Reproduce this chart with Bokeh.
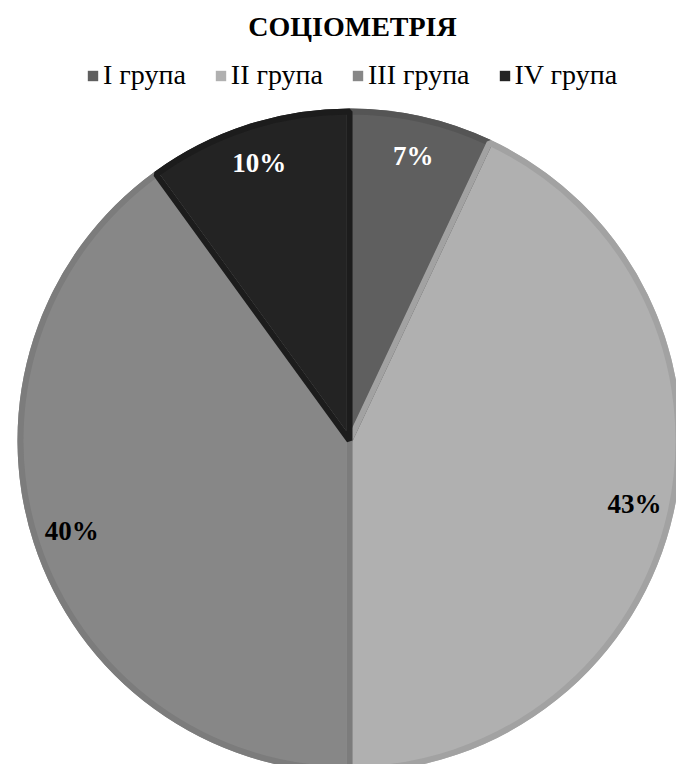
import math
from bokeh.plotting import figure
from bokeh.models import ColumnDataSource, Range1d, Label, Legend, LegendItem
from bokeh.core.properties import value
from bokeh.embed import file_html
from bokeh.resources import INLINE

# ---- data ----
title_text = "СОЦІОМЕТРІЯ"
groups = ["I група", "II група", "III група", "IV група"]
shares = [7, 43, 40, 10]
labels = ["7%", "43%", "40%", "10%"]

# ---- styles ----
fills = ["#5f5f5f", "#b0b0b0", "#878787", "#232323"]
borders = ["#555555", "#a2a2a2", "#7c7c7c", "#1c1c1c"]
label_colors = ["white", "black", "black", "white"]
FONT = "'Liberation Serif', 'Times New Roman', serif"

W, H = 676, 764
CX, CY, R = 349, 324, 332
LR = 292

total = sum(shares)
starts, ends, mids = [], [], []
cum = 0.0
for s in shares:
    a0 = cum / total * 2 * math.pi
    cum += s
    a1 = cum / total * 2 * math.pi
    # clockwise from 12 o'clock -> bokeh angles counterclockwise from +x
    starts.append(math.pi / 2 - a0)
    ends.append(math.pi / 2 - a1)
    mids.append((a0 + a1) / 2)

src = ColumnDataSource(dict(
    group=groups, share=shares, start=starts, end=ends,
    fill=fills, border=borders,
    lx=[CX + LR * math.sin(m) for m in mids],
    ly=[CY + LR * math.cos(m) for m in mids],
    label=labels, lcol=label_colors,
))

p = figure(width=W, height=H, output_backend="svg", toolbar_location=None,
           x_range=Range1d(0, W), y_range=Range1d(0, H), min_border=0)
p.axis.visible = False
p.grid.visible = False
p.outline_line_color = None
p.background_fill_color = "white"

fill_r = p.wedge(x=CX, y=CY, radius=R, start_angle="start", end_angle="end",
                 direction="clock", fill_color="fill", line_color=None, source=src)
p.wedge(x=CX, y=CY, radius=R - 3, start_angle="start", end_angle="end",
        direction="clock", fill_alpha=0, line_color="border", line_width=6,
        source=src)

p.text(x="lx", y="ly", text="label", text_color="lcol", source=src,
       text_font=value(FONT), text_font_style="bold",
       text_font_size="27px", text_align="center", text_baseline="middle")

legend = Legend(items=[LegendItem(label=g, renderers=[fill_r], index=i)
                       for i, g in enumerate(groups)],
                orientation="horizontal", location=(86, 673),
                label_text_font=FONT, label_text_font_size="28px",
                label_text_color="black",
                glyph_width=13, glyph_height=13, label_standoff=4, spacing=28,
                padding=0, margin=0, border_line_color=None,
                background_fill_alpha=0, label_height=20)
p.add_layout(legend)

p.add_layout(Label(x=W / 2 + 14, y=H - 26, x_units="screen", y_units="screen",
                   text=title_text, text_font=FONT,
                   text_font_style="bold", text_font_size="28px",
                   text_color="black",
                   text_align="center", text_baseline="middle"))

open("out.html", "w").write(file_html(p, INLINE))
